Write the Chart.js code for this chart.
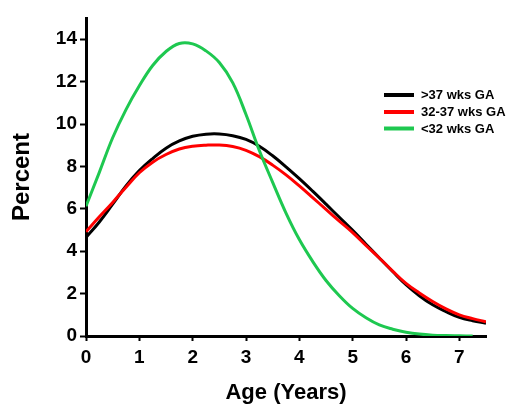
<!DOCTYPE html>
<html>
<head>
<meta charset="utf-8">
<script src="https://cdn.jsdelivr.net/npm/chart.js@4"></script>
<style>
	html, body { margin: 0; padding: 0; background: #fff; }
	#wrap { width: 507px; height: 407px; position: relative; }
</style>
</head>
<body>
<div id="wrap"><canvas id="myChart"></canvas></div>
<script>
// edad en años (cada 0.25)
const ages = [0, 0.25, 0.5, 0.75, 1, 1.25, 1.5, 1.75, 2, 2.25, 2.5, 2.75, 3, 3.25, 3.5, 3.75,
	4, 4.25, 4.5, 4.75, 5, 5.25, 5.5, 5.75, 6, 6.25, 6.5, 6.75, 7, 7.25, 7.5];

const term = [4.65, 5.38, 6.22, 7.08, 7.8, 8.37, 8.86, 9.2, 9.42, 9.52, 9.53, 9.45, 9.27, 8.95, 8.5, 7.98,
	7.42, 6.83, 6.22, 5.6, 4.98, 4.33, 3.68, 3.04, 2.42, 1.9, 1.47, 1.15, 0.88, 0.72, 0.6];

const moderate = [4.92, 5.62, 6.3, 7.02, 7.7, 8.2, 8.56, 8.82, 8.95, 9.0, 9.01, 8.94, 8.76, 8.46, 8.06, 7.6,
	7.08, 6.53, 5.97, 5.42, 4.88, 4.27, 3.68, 3.06, 2.48, 2.03, 1.63, 1.28, 1.0, 0.82, 0.67];

const veryPreterm = [6.12, 7.72, 9.35, 10.68, 11.8, 12.76, 13.42, 13.8, 13.78, 13.45, 12.9, 11.95, 10.45, 8.75, 7.25, 5.8,
	4.55, 3.52, 2.62, 1.9, 1.3, 0.86, 0.52, 0.32, 0.18, 0.09, 0.04, 0.02, 0.01, 0];

const seriesLabels = ['>37 wks GA', '32-37 wks GA', '<32 wks GA'];
const seriesColors = ['#000000', '#ff0000', '#1ec850'];

const xTicks = [0, 1, 2, 3, 4, 5, 6, 7];
const yTicks = [0, 2, 4, 6, 8, 10, 12, 14];

function puntos(xs, ys) {
	return ys.map((v, i) => ({ x: xs[i], y: v }));
}

const FONT = "'Liberation Sans', Arial, sans-serif";

// leyenda dibujada dentro del área
const leyenda = {
	id: 'leyenda',
	afterDraw(chart) {
		const ctx = chart.ctx;
		const ys = [95, 112, 128.5];
		ctx.save();
		chart.data.datasets.forEach((ds, i) => {
			ctx.strokeStyle = ds.borderColor;
			ctx.lineWidth = 4;
			ctx.beginPath();
			ctx.moveTo(384, ys[i]);
			ctx.lineTo(414, ys[i]);
			ctx.stroke();
			ctx.fillStyle = '#000';
			ctx.font = 'bold 13px ' + FONT;
			ctx.textBaseline = 'middle';
			ctx.textAlign = 'left';
			ctx.fillText(ds.label, 421, ys[i] + 0.5);
		});
		ctx.restore();
	}
};

const data = {
	datasets: [
		{
			label: seriesLabels[0],
			data: puntos(ages, term),
			borderColor: seriesColors[0],
			order: 2
		},
		{
			label: seriesLabels[1],
			data: puntos(ages, moderate),
			borderColor: seriesColors[1],
			order: 1
		},
		{
			label: seriesLabels[2],
			data: puntos(ages, veryPreterm),
			borderColor: seriesColors[2],
			order: 0
		}
	].map(d => Object.assign(d, {
		borderWidth: 3,
		pointRadius: 0,
		fill: false,
		tension: 0.4
	}))
};

const config = {
	type: 'line',
	data: data,
	options: {
		responsive: true,
		maintainAspectRatio: false,
		animation: false,
		layout: { padding: { top: 18, right: 21, left: 0, bottom: 0 } },
		plugins: {
			legend: { display: false },
			tooltip: { enabled: false },
			title: { display: false }
		},
		scales: {
			x: {
				type: 'linear',
				min: 0,
				max: 7.5,
				afterFit: s => { s.height = 71; },
				afterBuildTicks: s => { s.ticks = xTicks.map(v => ({ value: v })); },
				ticks: {
					color: '#000',
					font: { family: FONT, size: 19, weight: 'bold' },
					padding: 5,
					maxRotation: 0
				},
				grid: {
					drawOnChartArea: false,
					drawTicks: true,
					tickLength: 5,
					tickColor: '#000',
					tickWidth: 2
				},
				border: { display: true, color: '#000', width: 3 },
				title: {
					display: true,
					text: 'Age (Years)',
					color: '#000',
					font: { family: FONT, size: 22, weight: 'bold' },
					padding: { top: 0, bottom: 1 }
				}
			},
			y: {
				min: 0,
				max: 15,
				afterFit: s => { s.width = 86; },
				afterBuildTicks: s => { s.ticks = yTicks.map(v => ({ value: v })); },
				ticks: {
					color: '#000',
					font: { family: FONT, size: 19, weight: 'bold' },
					padding: 3
				},
				grid: {
					drawOnChartArea: false,
					drawTicks: true,
					tickLength: 6,
					tickColor: '#000',
					tickWidth: 2
				},
				border: { display: true, color: '#000', width: 3 },
				title: {
					display: true,
					text: 'Percent',
					color: '#000',
					font: { family: FONT, size: 24, weight: 'bold' },
					padding: { top: 8, bottom: 0 }
				}
			}
		}
	},
	plugins: [leyenda]
};

const ctx = document.getElementById('myChart').getContext('2d');
new Chart(ctx, config);
</script>
</body>
</html>
